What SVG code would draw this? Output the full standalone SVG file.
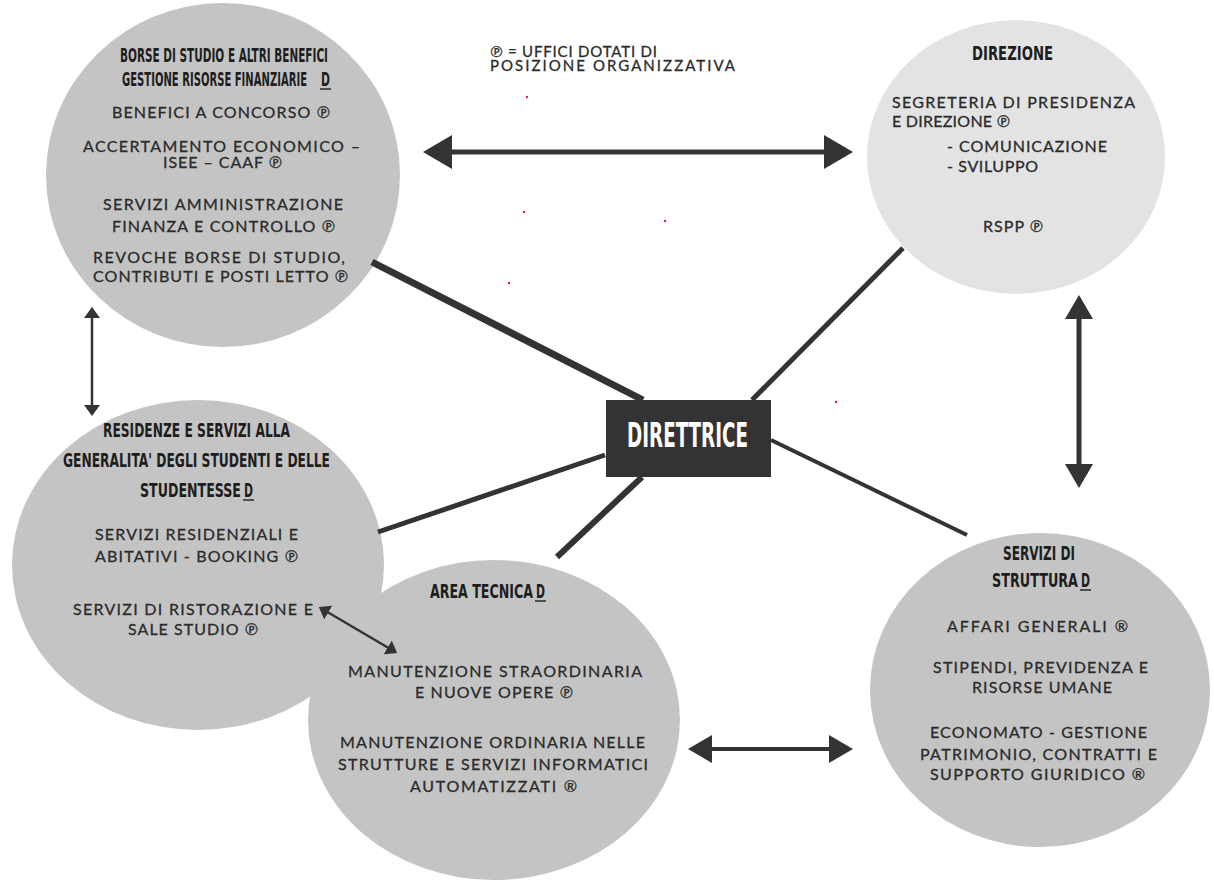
<svg xmlns="http://www.w3.org/2000/svg" width="1214" height="889" viewBox="0 0 1214 889">
<style>
.c{fill:#c4c4c4}
.cl{fill:#e3e3e3}
.t{font-family:"Liberation Sans Narrow","DejaVu Sans Condensed","Liberation Sans",sans-serif;font-weight:bold;font-size:20px;fill:#1e1e1e}
.b{font-family:Lato,"DejaVu Sans",sans-serif;font-size:16px;fill:#2b2b2b;stroke:#2b2b2b;stroke-width:0.3}
.k{stroke:#333;stroke-linecap:butt;fill:none}
.u{stroke:#1e1e1e;stroke-width:1.4}
.dot{fill:#e0203a}
</style>
<defs>
<marker id="big" viewBox="0 0 29 34" refX="14" refY="17" markerWidth="29" markerHeight="34" markerUnits="userSpaceOnUse" orient="auto-start-reverse"><path d="M0,0 L29,17 L0,34 z" fill="#333"/></marker>
<marker id="med" viewBox="0 0 24 28" refX="12" refY="14" markerWidth="24" markerHeight="28" markerUnits="userSpaceOnUse" orient="auto-start-reverse"><path d="M0,0 L24,14 L0,28 z" fill="#333"/></marker>
<marker id="sm" viewBox="0 0 11 16" refX="5" refY="8" markerWidth="11" markerHeight="16" markerUnits="userSpaceOnUse" orient="auto-start-reverse"><path d="M0,0 L11,8 L0,16 z" fill="#333"/></marker>
</defs>
<rect width="1214" height="889" fill="#fff"/>

<g id="legend">
<text class="b" x="490" y="57" style="font-size:15px" textLength="167">℗ = UFFICI DOTATI DI</text>
<text class="b" x="490" y="71" style="font-size:15px" textLength="245">POSIZIONE ORGANIZZATIVA</text>
</g>

<g id="node-borse">
<ellipse class="c" cx="223" cy="175" rx="177" ry="172"/>
<text class="t" x="120" y="62" textLength="208" lengthAdjust="spacingAndGlyphs">BORSE DI STUDIO E ALTRI BENEFICI</text>
<text class="t" x="122" y="86" textLength="185" lengthAdjust="spacingAndGlyphs">GESTIONE RISORSE FINANZIARIE</text>
<text class="t" x="321" y="86" textLength="9" lengthAdjust="spacingAndGlyphs">D</text>
<line class="u" x1="320" y1="89" x2="331" y2="89"/>
<text class="b" x="112" y="118" textLength="218">BENEFICI A CONCORSO ℗</text>
<text class="b" x="83" y="152" textLength="277">ACCERTAMENTO ECONOMICO –</text>
<text class="b" x="163" y="168" textLength="119">ISEE – CAAF ℗</text>
<text class="b" x="103" y="210" textLength="240">SERVIZI AMMINISTRAZIONE</text>
<text class="b" x="112" y="232" textLength="223">FINANZA E CONTROLLO ℗</text>
<text class="b" x="93" y="263" textLength="252">REVOCHE BORSE DI STUDIO,</text>
<text class="b" x="93" y="282" textLength="255">CONTRIBUTI E POSTI LETTO ℗</text>
</g>

<g id="node-direzione">
<ellipse class="cl" cx="1016" cy="157" rx="149" ry="137"/>
<text class="t" x="972" y="60" textLength="81" lengthAdjust="spacingAndGlyphs">DIREZIONE</text>
<text class="b" x="892" y="108" textLength="243">SEGRETERIA DI PRESIDENZA</text>
<text class="b" x="892" y="127" textLength="118">E DIREZIONE ℗</text>
<text class="b" x="947" y="152" textLength="160">- COMUNICAZIONE</text>
<text class="b" x="947" y="172" textLength="91">- SVILUPPO</text>
<text class="b" x="983" y="232" textLength="60">RSPP ℗</text>
</g>

<g id="node-residenze">
<ellipse class="c" cx="198" cy="565" rx="186" ry="165"/>
<text class="t" x="103" y="437" textLength="187" lengthAdjust="spacingAndGlyphs">RESIDENZE E SERVIZI ALLA</text>
<text class="t" x="63" y="467" textLength="267" lengthAdjust="spacingAndGlyphs">GENERALITA' DEGLI STUDENTI E DELLE</text>
<text class="t" x="140" y="497" textLength="101" lengthAdjust="spacingAndGlyphs">STUDENTESSE</text>
<text class="t" x="244" y="497" textLength="9" lengthAdjust="spacingAndGlyphs">D</text>
<line class="u" x1="243" y1="500" x2="254" y2="500"/>
<text class="b" x="95" y="540" textLength="203">SERVIZI RESIDENZIALI E</text>
<text class="b" x="95" y="562" textLength="203">ABITATIVI - BOOKING ℗</text>
<text class="b" x="73" y="615" textLength="240">SERVIZI DI RISTORAZIONE E</text>
<text class="b" x="128" y="635" textLength="130">SALE STUDIO ℗</text>
</g>

<g id="node-area-tecnica">
<ellipse class="c" cx="494" cy="720" rx="186" ry="160"/>
<text class="t" x="430" y="598" textLength="103" lengthAdjust="spacingAndGlyphs">AREA TECNICA</text>
<text class="t" x="536" y="598" textLength="9" lengthAdjust="spacingAndGlyphs">D</text>
<line class="u" x1="535" y1="601" x2="546" y2="601"/>
<text class="b" x="348" y="677" textLength="294">MANUTENZIONE STRAORDINARIA</text>
<text class="b" x="415" y="698" textLength="158">E NUOVE OPERE ℗</text>
<text class="b" x="340" y="748" textLength="305">MANUTENZIONE ORDINARIA NELLE</text>
<text class="b" x="338" y="770" textLength="310">STRUTTURE E SERVIZI INFORMATICI</text>
<text class="b" x="410" y="792" textLength="167">AUTOMATIZZATI ®</text>
</g>

<g id="node-servizi-struttura">
<ellipse class="c" cx="1040" cy="690" rx="170" ry="157"/>
<text class="t" x="1003" y="560" textLength="72" lengthAdjust="spacingAndGlyphs">SERVIZI DI</text>
<text class="t" x="992" y="587" textLength="86" lengthAdjust="spacingAndGlyphs">STRUTTURA</text>
<text class="t" x="1081" y="587" textLength="9" lengthAdjust="spacingAndGlyphs">D</text>
<line class="u" x1="1080" y1="590" x2="1091" y2="590"/>
<text class="b" x="947" y="632" textLength="181">AFFARI GENERALI ®</text>
<text class="b" x="933" y="673" textLength="215">STIPENDI, PREVIDENZA E</text>
<text class="b" x="972" y="693" textLength="140">RISORSE UMANE</text>
<text class="b" x="930" y="738" textLength="217">ECONOMATO - GESTIONE</text>
<text class="b" x="920" y="760" textLength="237">PATRIMONIO, CONTRATTI E</text>
<text class="b" x="930" y="780" textLength="215">SUPPORTO GIURIDICO ®</text>
</g>

<g id="connectors">
<line class="k" x1="372" y1="262" x2="643" y2="400" stroke-width="7"/>
<line class="k" x1="903" y1="248" x2="752" y2="400" stroke-width="5"/>
<line class="k" x1="771" y1="440" x2="967" y2="535" stroke-width="4"/>
<line class="k" x1="605" y1="455" x2="378" y2="532" stroke-width="5"/>
<line class="k" x1="642" y1="477" x2="557" y2="557" stroke-width="6"/>
<line class="k" x1="438" y1="152" x2="838" y2="152" stroke-width="5" marker-start="url(#big)" marker-end="url(#big)"/>
<line class="k" x1="1079" y1="307" x2="1079" y2="476" stroke-width="5" marker-start="url(#med)" marker-end="url(#med)"/>
<line class="k" x1="700" y1="749" x2="841" y2="749" stroke-width="4" marker-start="url(#med)" marker-end="url(#med)"/>
<line class="k" x1="92" y1="313" x2="92" y2="410" stroke-width="2.5" marker-start="url(#sm)" marker-end="url(#sm)"/>
<line class="k" x1="324" y1="610" x2="392" y2="650" stroke-width="2.5" marker-start="url(#sm)" marker-end="url(#sm)"/>
</g>

<g id="node-direttrice">
<rect x="606" y="400" width="165" height="77" fill="#333"/>
<text class="t" x="627" y="447" style="font-size:33px;fill:#fff" textLength="121" lengthAdjust="spacingAndGlyphs">DIRETTRICE</text>
</g>

<g id="specks">
<circle class="dot" cx="527" cy="97" r="1.2"/>
<circle class="dot" cx="524" cy="212" r="1.2"/>
<circle class="dot" cx="665" cy="221" r="1.2"/>
<circle class="dot" cx="509" cy="283" r="1.2"/>
<circle class="dot" cx="836" cy="402" r="1.2"/>
</g>
</svg>
